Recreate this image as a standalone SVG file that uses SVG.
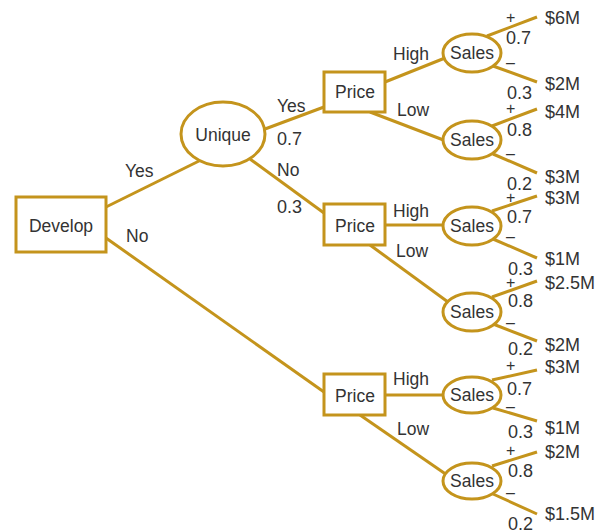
<svg xmlns="http://www.w3.org/2000/svg" width="614" height="531" viewBox="0 0 614 531">
<style>
.n{fill:#fff;stroke:#c4941c;stroke-width:3}
.c line{stroke:#c4941c;stroke-width:3;stroke-linecap:butt}
text{font-family:"Liberation Sans",Arial,sans-serif;font-size:17.5px;fill:#333}
.m{text-anchor:middle}
.v{font-size:18px}
.s{font-size:16px}
</style>
<rect width="614" height="531" fill="#fff"/>
<g class="c" id="connectors">
<line x1="106" y1="207" x2="199" y2="161"/>
<line x1="106" y1="238" x2="324" y2="392"/>
<line x1="265" y1="129" x2="324" y2="107"/>
<line x1="250" y1="159" x2="324" y2="213"/>
<line x1="385" y1="82" x2="445" y2="58"/>
<line x1="370" y1="112" x2="446" y2="141"/>
<line x1="385" y1="225" x2="443" y2="225"/>
<line x1="370" y1="245" x2="448" y2="302"/>
<line x1="385" y1="395" x2="443" y2="395"/>
<line x1="360" y1="415" x2="447" y2="475"/>
<line x1="487" y1="36" x2="537" y2="17"/>
<line x1="493" y1="66" x2="537" y2="82"/>
<line x1="492" y1="126" x2="537" y2="109"/>
<line x1="493" y1="154" x2="537" y2="173"/>
<line x1="492" y1="211" x2="537" y2="196"/>
<line x1="493" y1="239" x2="537" y2="258"/>
<line x1="492" y1="297" x2="537" y2="281"/>
<line x1="493" y1="324" x2="537" y2="341"/>
<line x1="492" y1="380" x2="537" y2="370"/>
<line x1="493" y1="408" x2="537" y2="421"/>
<line x1="492" y1="466" x2="537" y2="452"/>
<line x1="493" y1="494" x2="537" y2="514"/>
</g>
<g id="develop"><rect class="n" x="16" y="197" width="90" height="55"/><text class="m" x="61" y="232">Develop</text></g>
<g id="unique"><ellipse class="n" cx="223" cy="134" rx="42" ry="32"/><text class="m" x="223" y="141">Unique</text></g>
<g id="price1"><rect class="n" x="324" y="72" width="61" height="40"/><text class="m" x="355" y="98">Price</text></g>
<g id="price2"><rect class="n" x="324" y="204" width="61" height="41"/><text class="m" x="355" y="232">Price</text></g>
<g id="price3"><rect class="n" x="324" y="374" width="61" height="41"/><text class="m" x="355" y="402">Price</text></g>
<g id="sales1"><ellipse class="n" cx="472" cy="53" rx="29" ry="19"/><text class="m" x="472" y="59">Sales</text></g>
<g id="sales2"><ellipse class="n" cx="472" cy="140" rx="29" ry="19"/><text class="m" x="472" y="146">Sales</text></g>
<g id="sales3"><ellipse class="n" cx="472" cy="226" rx="29" ry="19"/><text class="m" x="472" y="232">Sales</text></g>
<g id="sales4"><ellipse class="n" cx="472" cy="312" rx="29" ry="19"/><text class="m" x="472" y="318">Sales</text></g>
<g id="sales5"><ellipse class="n" cx="472" cy="395" rx="29" ry="18"/><text class="m" x="472" y="401">Sales</text></g>
<g id="sales6"><ellipse class="n" cx="472" cy="481" rx="29" ry="18"/><text class="m" x="472" y="487">Sales</text></g>
<g id="labels">
<text x="125" y="177">Yes</text>
<text x="126" y="242">No</text>
<text x="277" y="112">Yes</text>
<text x="277" y="145" class="v">0.7</text>
<text x="277" y="176">No</text>
<text x="277" y="213" class="v">0.3</text>
<text x="393" y="60">High</text>
<text x="397" y="116">Low</text>
<text x="393" y="217">High</text>
<text x="396" y="257">Low</text>
<text x="393" y="385">High</text>
<text x="397" y="435">Low</text>
</g>
<g id="outcomes">
<text x="506" y="23" class="s">+</text><text x="506" y="44" class="v">0.7</text><text x="506" y="68" class="s">–</text>
<text x="545" y="24" class="v">$6M</text><text x="545" y="90" class="v">$2M</text><text x="507" y="99" class="v">0.3</text>
<text x="506" y="114" class="s">+</text><text x="507" y="136" class="v">0.8</text><text x="506" y="159" class="s">–</text>
<text x="545" y="118" class="v">$4M</text><text x="545" y="183" class="v">$3M</text><text x="507" y="190" class="v">0.2</text>
<text x="506" y="203" class="s">+</text><text x="507" y="223" class="v">0.7</text><text x="506" y="242" class="s">–</text>
<text x="545" y="204" class="v">$3M</text><text x="545" y="265" class="v">$1M</text><text x="508" y="275" class="v">0.3</text>
<text x="506" y="288" class="s">+</text><text x="508" y="307" class="v">0.8</text><text x="506" y="328" class="s">–</text>
<text x="545" y="289" class="v">$2.5M</text><text x="545" y="351" class="v">$2M</text><text x="508" y="355" class="v">0.2</text>
<text x="506" y="371" class="s">+</text><text x="507" y="395" class="v">0.7</text><text x="506" y="412" class="s">–</text>
<text x="545" y="373" class="v">$3M</text><text x="545" y="434" class="v">$1M</text><text x="508" y="438" class="v">0.3</text>
<text x="506" y="456" class="s">+</text><text x="508" y="477" class="v">0.8</text><text x="506" y="498" class="s">–</text>
<text x="545" y="458" class="v">$2M</text><text x="545" y="520" class="v">$1.5M</text><text x="508" y="530" class="v">0.2</text>
</g>
</svg>
